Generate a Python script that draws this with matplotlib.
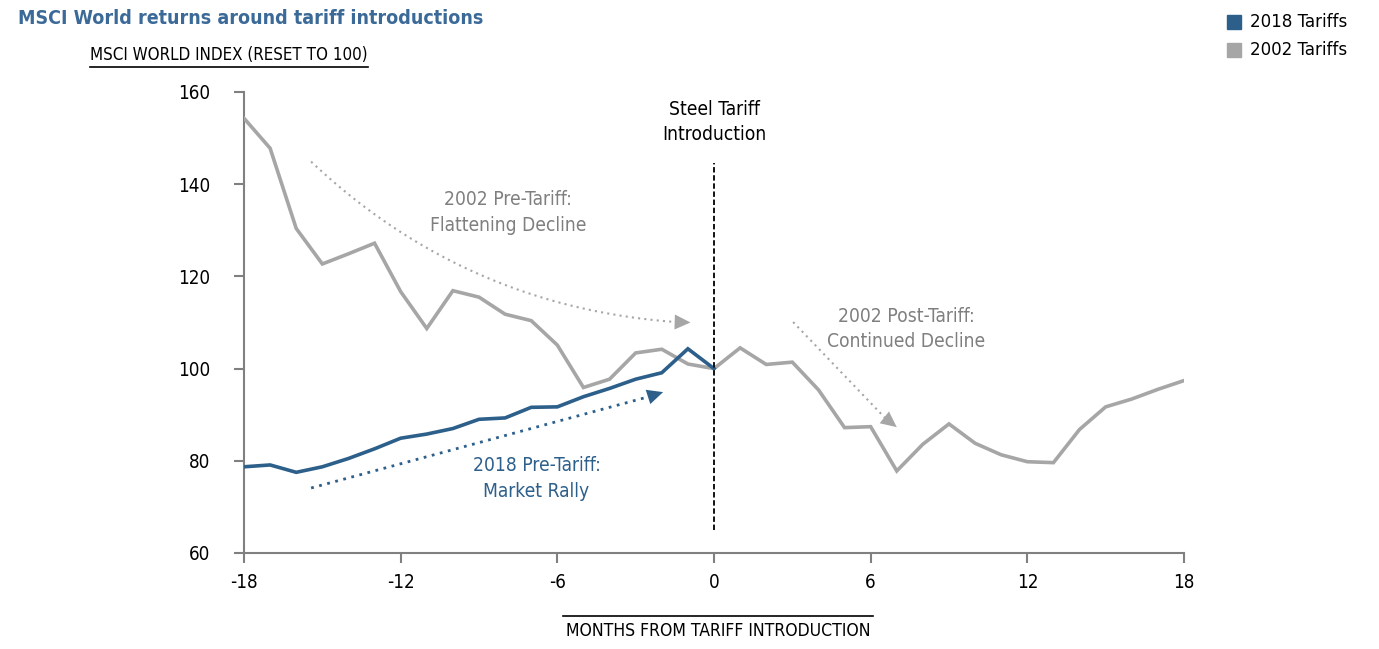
import matplotlib
matplotlib.use("Agg")
import matplotlib.pyplot as plt
import numpy as np
from matplotlib.lines import Line2D

plt.rcParams['font.family'] = ['DejaVu Sans']
plt.rcParams['font.stretch'] = 'condensed'

# months from tariff introduction
months = list(range(-18, 19))
months_pre = list(range(-18, 1))

# MSCI World index, reset to 100 at introduction
idx_2018 = [78.7, 79.1, 77.5, 78.7, 80.5, 82.6, 84.9, 85.8, 87.0, 89.0,
            89.3, 91.6, 91.7, 93.9, 95.7, 97.7, 99.1, 104.3, 100.0]
idx_2002 = [154.3, 147.8, 130.4, 122.7, 124.9, 127.2, 116.7, 108.7, 116.9, 115.5,
            111.8, 110.4, 105.1, 95.9, 97.7, 103.4, 104.2, 101.0, 100.0,
            104.5, 100.9, 101.4, 95.4, 87.2, 87.4, 77.8, 83.6, 88.0, 83.8,
            81.3, 79.8, 79.6, 86.8, 91.7, 93.4, 95.5, 97.4]

xticks = [-18, -12, -6, 0, 6, 12, 18]
yticks = [60, 80, 100, 120, 140, 160]

blue = '#2d5f8b'
gray = '#a6a6a6'
gray_txt = '#7f7f7f'
title_blue = '#3b6a98'
axis_gray = '#808080'

fig = plt.figure(figsize=(13.79, 6.49), dpi=100)
ax = fig.add_axes([244/1379, 1-553/649, 940/1379, 461/649])

ax.plot(months, idx_2002, color=gray, lw=2.6, solid_joinstyle='miter', zorder=3)
ax.plot(months_pre, idx_2018, color=blue, lw=2.6, solid_joinstyle='miter', zorder=4)

ax.set_xlim(-18, 18)
ax.set_ylim(60, 160)
ax.set_xticks(xticks)
ax.set_yticks(yticks)
ax.set_xticklabels([str(v) for v in xticks])
ax.set_yticklabels([str(v) for v in yticks])
for s in ['top', 'right']:
    ax.spines[s].set_visible(False)
for s in ['left', 'bottom']:
    ax.spines[s].set_color(axis_gray)
    ax.spines[s].set_linewidth(1.5)
ax.tick_params(axis='both', colors=axis_gray, width=1.5, length=7.5, labelsize=13.5,
               labelcolor='black')
ax.tick_params(axis='y', pad=17)
ax.tick_params(axis='x', pad=7)

# tariff introduction marker
ax.plot([0, 0], [65, 144.6], color='black', lw=1.3, ls=(0, (3, 1.5)), zorder=5)
ax.text(0, 153.5, 'Steel Tariff\nIntroduction', ha='center', va='center',
        fontsize=13.8, color='black', linespacing=1.4)

head = '-|>,head_length=0.95,head_width=0.45'

# curved dotted arrow (2002 pre-tariff)
A = np.array([-15.43, 144.9])
C = np.array([-9.54, 113.4])
B = np.array([-1.45, 110.1])
t = np.linspace(0, 1, 80)[:, None]
curve = (1-t)**2*A + 2*(1-t)*t*C + t**2*B
ax.plot(curve[:, 0], curve[:, 1], color=gray, lw=1.5, ls=(0, (1, 2)), zorder=2)
ax.annotate('', xy=(-0.9, 110.0), xytext=(-1.45, 110.1),
            arrowprops=dict(arrowstyle=head, color=gray, lw=0, mutation_scale=12,
                            shrinkA=0, shrinkB=0), zorder=2)

# blue dotted arrow (2018 pre-tariff)
ax.plot([-15.43, -2.5], [74.1, 93.9], color=blue, lw=2, ls=(0, (1, 2)), zorder=2)
ax.annotate('', xy=(-1.95, 94.9), xytext=(-2.5, 93.9),
            arrowprops=dict(arrowstyle=head, color=blue, lw=0, mutation_scale=12,
                            shrinkA=0, shrinkB=0), zorder=2)

# gray dotted arrow (2002 post-tariff)
ax.plot([3.03, 6.55], [110.1, 89.3], color=gray, lw=1.5, ls=(0, (1, 2)), zorder=2)
ax.annotate('', xy=(7.0, 87.3), xytext=(6.55, 89.3),
            arrowprops=dict(arrowstyle=head, color=gray, lw=0, mutation_scale=12,
                            shrinkA=0, shrinkB=0), zorder=2)

ax.text(-7.9, 133.8, '2002 Pre-Tariff:\nFlattening Decline', ha='center', va='center',
        fontsize=13.8, color=gray_txt, linespacing=1.45)
ax.text(-6.8, 76.1, '2018 Pre-Tariff:\nMarket Rally', ha='center', va='center',
        fontsize=13.8, color=blue, linespacing=1.45)
ax.text(7.35, 108.6, '2002 Post-Tariff:\nContinued Decline', ha='center', va='center',
        fontsize=13.8, color=gray_txt, linespacing=1.45)

# title and axis captions
fig.text(18/1379, 1-19/649, 'MSCI World returns around tariff introductions',
         fontsize=14, fontweight='bold', color=title_blue, va='center', ha='left')
fig.text(90/1379, 1-55/649, 'MSCI WORLD INDEX (RESET TO 100)', fontsize=12.2,
         color='black', va='center', ha='left')
fig.add_artist(Line2D([90/1379, 368/1379], [1-67/649, 1-67/649], color='black', lw=1.2))
fig.text(718/1379, 1-631/649, 'MONTHS FROM TARIFF INTRODUCTION', fontsize=12.6,
         color='black', va='center', ha='center')
fig.add_artist(Line2D([563/1379, 873/1379], [1-616/649, 1-616/649], color='black', lw=1.2))

# legend
for ypix, lab, col in [(22, '2018 Tariffs', blue), (50, '2002 Tariffs', gray)]:
    fig.patches.append(plt.Rectangle((1227/1379, 1-(ypix+7)/649), 14/1379, 14/649,
                                     transform=fig.transFigure, color=col, figure=fig))
    fig.text(1250/1379, 1-ypix/649, lab, fontsize=13.3, color='black', va='center', ha='left')

fig.savefig('out.png', dpi=100)
